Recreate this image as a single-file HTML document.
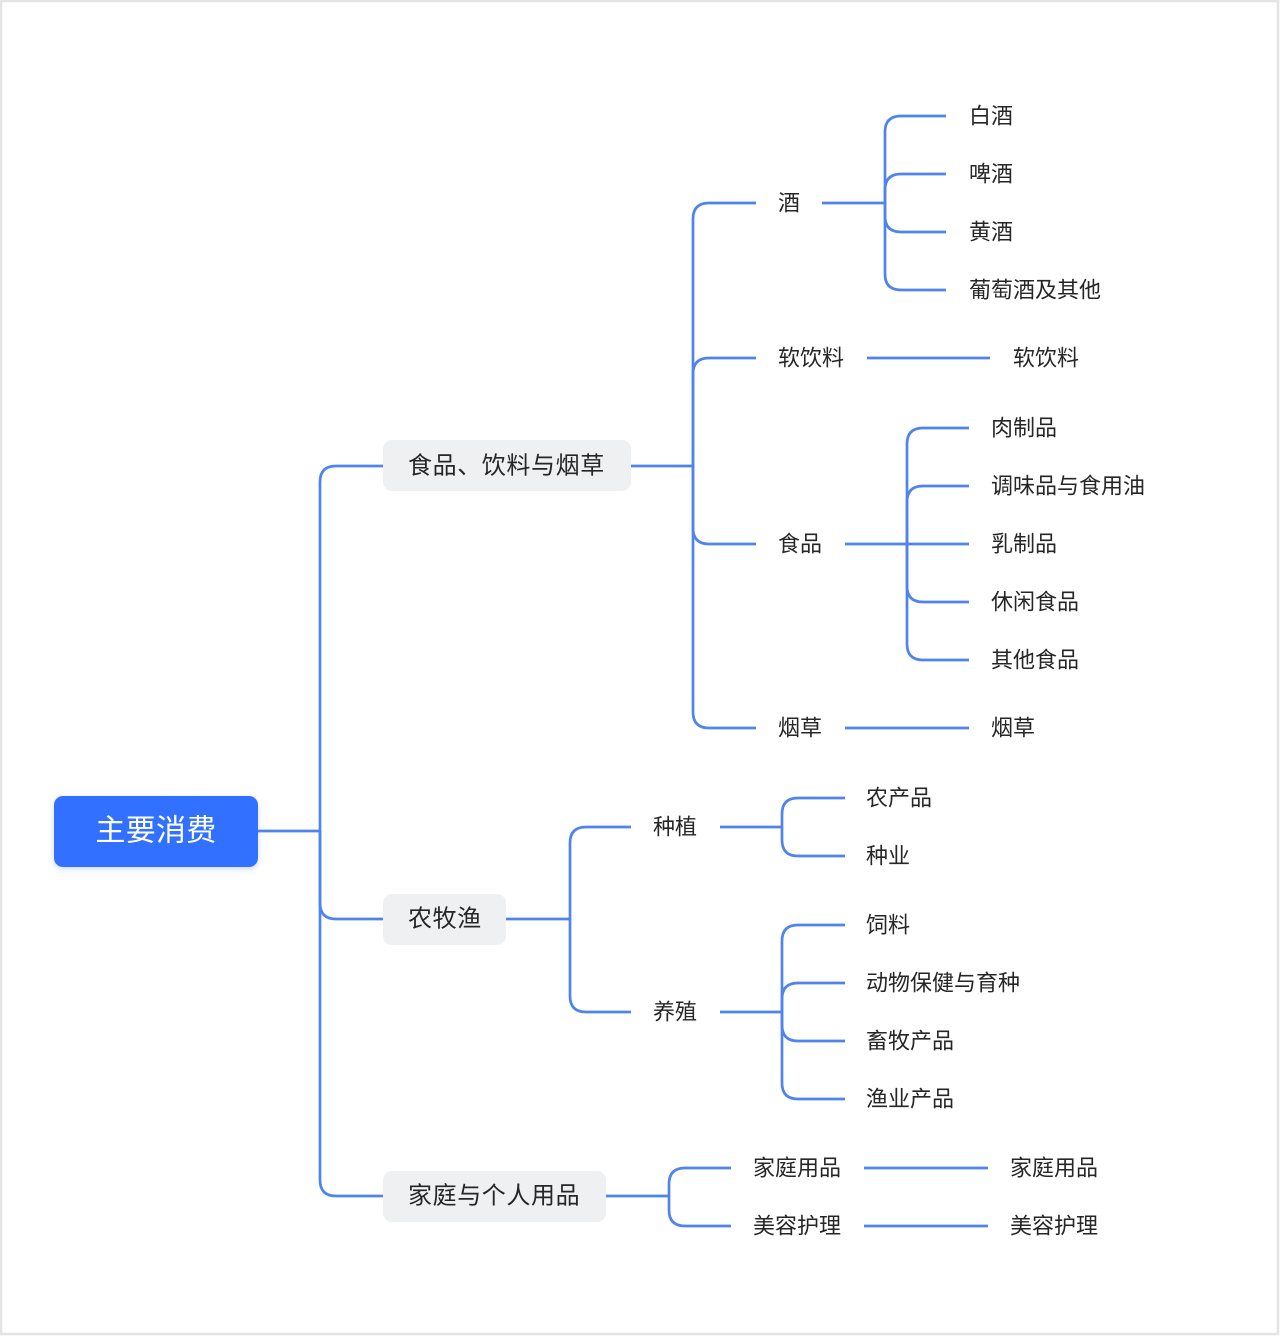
<!DOCTYPE html>
<html>
<head>
<meta charset="utf-8">
<style>
  html, body { margin: 0; padding: 0; background: #ffffff; }
  body { width: 1280px; height: 1336px; overflow: hidden; }
  svg { display: block; }
  text { font-family: "Liberation Sans", "Noto Sans CJK SC", sans-serif; fill: #262626; dominant-baseline: central; }
  .l1 { font-size: 24px; letter-spacing: 0.6px; }
  .l2 { font-size: 22px; }
  .root { font-size: 30px; fill: #ffffff; letter-spacing: 0.3px; }
  path.c { fill: none; stroke: #4f84ee; stroke-width: 2.7; stroke-linecap: butt; stroke-linejoin: round; }
</style>
</head>
<body>
<svg width="1280" height="1336" viewBox="0 0 1280 1336" xmlns="http://www.w3.org/2000/svg">
  <defs>
    <filter id="sh" x="-20%" y="-30%" width="140%" height="160%">
      <feDropShadow dx="0" dy="2" stdDeviation="3" flood-color="#3370ff" flood-opacity="0.25"/>
    </filter>
  </defs>
  <rect x="1" y="1" width="1277" height="1333" fill="#ffffff" stroke="#e4e4e4" stroke-width="2.5"/>

  <!-- Root trunk -->
  <path class="c" d="M258 831 H320 V482 Q320 466 336 466 H383"/>
  <path class="c" d="M320 831 V903 Q320 919 336 919 H383"/>
  <path class="c" d="M320 831 V1180 Q320 1196 336 1196 H383"/>

  <!-- Food group -->
  <path class="c" d="M631 466 H693 V219 Q693 203 709 203 H756"/>
  <path class="c" d="M693 466 V374 Q693 358 709 358 H756"/>
  <path class="c" d="M693 466 V528 Q693 544 709 544 H756"/>
  <path class="c" d="M693 466 V712 Q693 728 709 728 H756"/>

  <!-- 酒 -->
  <path class="c" d="M822 203 H885 V132 Q885 116 901 116 H946"/>
  <path class="c" d="M885 203 V190 Q885 174 901 174 H946"/>
  <path class="c" d="M885 203 V216 Q885 232 901 232 H946"/>
  <path class="c" d="M885 203 V274 Q885 290 901 290 H946"/>

  <!-- 软饮料 -->
  <path class="c" d="M867 358 H990"/>

  <!-- 食品 -->
  <path class="c" d="M845 544 H907 V444 Q907 428 923 428 H969"/>
  <path class="c" d="M907 544 V502 Q907 486 923 486 H969"/>
  <path class="c" d="M907 544 H969"/>
  <path class="c" d="M907 544 V586 Q907 602 923 602 H969"/>
  <path class="c" d="M907 544 V644 Q907 660 923 660 H969"/>

  <!-- 烟草 -->
  <path class="c" d="M845 728 H969"/>

  <!-- 农牧渔 -->
  <path class="c" d="M506 919 H570 V843 Q570 827 586 827 H631"/>
  <path class="c" d="M570 919 V996 Q570 1012 586 1012 H631"/>

  <!-- 种植 -->
  <path class="c" d="M720 827 H782 V814 Q782 798 798 798 H845"/>
  <path class="c" d="M782 827 V840 Q782 856 798 856 H845"/>

  <!-- 养殖 -->
  <path class="c" d="M720 1012 H782 V941 Q782 925 798 925 H845"/>
  <path class="c" d="M782 1012 V999 Q782 983 798 983 H845"/>
  <path class="c" d="M782 1012 V1025 Q782 1041 798 1041 H845"/>
  <path class="c" d="M782 1012 V1083 Q782 1099 798 1099 H845"/>

  <!-- 家庭与个人用品 -->
  <path class="c" d="M606 1196 H669 V1184 Q669 1168 685 1168 H731"/>
  <path class="c" d="M669 1196 V1210 Q669 1226 685 1226 H731"/>
  <path class="c" d="M864 1168 H988"/>
  <path class="c" d="M864 1226 H988"/>

  <!-- Root node -->
  <rect x="54" y="796" width="204" height="71" rx="9" fill="#3370ff" filter="url(#sh)"/>
  <text class="root" x="156" y="831" text-anchor="middle">主要消费</text>

  <!-- Level 1 nodes -->
  <rect x="383" y="440" width="248" height="51" rx="9" fill="#eff0f2"/>
  <text class="l1" x="408" y="466">食品、饮料与烟草</text>
  <rect x="383" y="894" width="123" height="51" rx="9" fill="#eff0f2"/>
  <text class="l1" x="408" y="919">农牧渔</text>
  <rect x="383" y="1171" width="223" height="51" rx="9" fill="#eff0f2"/>
  <text class="l1" x="408" y="1196">家庭与个人用品</text>

  <!-- Level 2 -->
  <text class="l2" x="778" y="203">酒</text>
  <text class="l2" x="778" y="358">软饮料</text>
  <text class="l2" x="778" y="544">食品</text>
  <text class="l2" x="778" y="728">烟草</text>
  <text class="l2" x="653" y="827">种植</text>
  <text class="l2" x="653" y="1012">养殖</text>
  <text class="l2" x="753" y="1168">家庭用品</text>
  <text class="l2" x="753" y="1226">美容护理</text>

  <!-- Level 3 -->
  <text class="l2" x="969" y="116">白酒</text>
  <text class="l2" x="969" y="174">啤酒</text>
  <text class="l2" x="969" y="232">黄酒</text>
  <text class="l2" x="969" y="290">葡萄酒及其他</text>
  <text class="l2" x="1013" y="358">软饮料</text>
  <text class="l2" x="991" y="428">肉制品</text>
  <text class="l2" x="991" y="486">调味品与食用油</text>
  <text class="l2" x="991" y="544">乳制品</text>
  <text class="l2" x="991" y="602">休闲食品</text>
  <text class="l2" x="991" y="660">其他食品</text>
  <text class="l2" x="991" y="728">烟草</text>
  <text class="l2" x="866" y="798">农产品</text>
  <text class="l2" x="866" y="856">种业</text>
  <text class="l2" x="866" y="925">饲料</text>
  <text class="l2" x="866" y="983">动物保健与育种</text>
  <text class="l2" x="866" y="1041">畜牧产品</text>
  <text class="l2" x="866" y="1099">渔业产品</text>
  <text class="l2" x="1010" y="1168">家庭用品</text>
  <text class="l2" x="1010" y="1226">美容护理</text>
</svg>
</body>
</html>
